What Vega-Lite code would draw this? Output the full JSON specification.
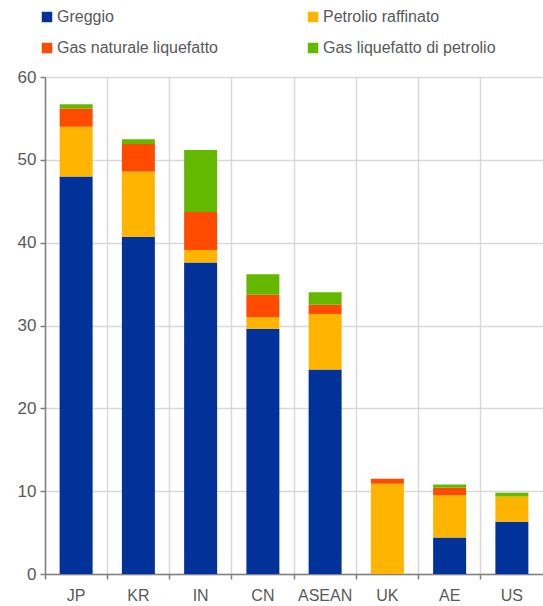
{
  "$schema": "https://vega.github.io/schema/vega-lite/v6.json",
  "width": 498,
  "height": 497,
  "autosize": {"type": "none"},
  "padding": {"left": 45, "top": 77, "right": 0, "bottom": 32},
  "background": "white",
  "config": {"view": {"stroke": null}, "font": "Liberation Sans"},
  "data": {"values": [
    {"c": "JP", "s": "Greggio", "o": 1, "v": 48.0},
    {"c": "JP", "s": "Petrolio raffinato", "o": 2, "v": 6.0},
    {"c": "JP", "s": "Gas naturale liquefatto", "o": 3, "v": 2.2},
    {"c": "JP", "s": "Gas liquefatto di petrolio", "o": 4, "v": 0.5},
    {"c": "KR", "s": "Greggio", "o": 1, "v": 40.7},
    {"c": "KR", "s": "Petrolio raffinato", "o": 2, "v": 7.9},
    {"c": "KR", "s": "Gas naturale liquefatto", "o": 3, "v": 3.3},
    {"c": "KR", "s": "Gas liquefatto di petrolio", "o": 4, "v": 0.6},
    {"c": "IN", "s": "Greggio", "o": 1, "v": 37.6},
    {"c": "IN", "s": "Petrolio raffinato", "o": 2, "v": 1.5},
    {"c": "IN", "s": "Gas naturale liquefatto", "o": 3, "v": 4.6},
    {"c": "IN", "s": "Gas liquefatto di petrolio", "o": 4, "v": 7.5},
    {"c": "CN", "s": "Greggio", "o": 1, "v": 29.6},
    {"c": "CN", "s": "Petrolio raffinato", "o": 2, "v": 1.4},
    {"c": "CN", "s": "Gas naturale liquefatto", "o": 3, "v": 2.7},
    {"c": "CN", "s": "Gas liquefatto di petrolio", "o": 4, "v": 2.5},
    {"c": "ASEAN", "s": "Greggio", "o": 1, "v": 24.7},
    {"c": "ASEAN", "s": "Petrolio raffinato", "o": 2, "v": 6.7},
    {"c": "ASEAN", "s": "Gas naturale liquefatto", "o": 3, "v": 1.1},
    {"c": "ASEAN", "s": "Gas liquefatto di petrolio", "o": 4, "v": 1.5},
    {"c": "UK", "s": "Greggio", "o": 1, "v": 0},
    {"c": "UK", "s": "Petrolio raffinato", "o": 2, "v": 10.9},
    {"c": "UK", "s": "Gas naturale liquefatto", "o": 3, "v": 0.6},
    {"c": "UK", "s": "Gas liquefatto di petrolio", "o": 4, "v": 0},
    {"c": "AE", "s": "Greggio", "o": 1, "v": 4.4},
    {"c": "AE", "s": "Petrolio raffinato", "o": 2, "v": 5.1},
    {"c": "AE", "s": "Gas naturale liquefatto", "o": 3, "v": 0.9},
    {"c": "AE", "s": "Gas liquefatto di petrolio", "o": 4, "v": 0.4},
    {"c": "US", "s": "Greggio", "o": 1, "v": 6.3},
    {"c": "US", "s": "Petrolio raffinato", "o": 2, "v": 3.05},
    {"c": "US", "s": "Gas naturale liquefatto", "o": 3, "v": 0},
    {"c": "US", "s": "Gas liquefatto di petrolio", "o": 4, "v": 0.45}
  ]},
  "mark": {"type": "bar", "width": {"band": 0.53}},
  "encoding": {
    "x": {
      "field": "c", "type": "nominal", "sort": null,
      "scale": {"paddingInner": 0, "paddingOuter": 0},
      "axis": {
        "title": null, "labelAngle": 0, "bandPosition": 0,
        "grid": true, "gridColor": "#d9d9d9", "gridWidth": 1.5,
        "domainColor": "#808080", "domainWidth": 1.5,
        "tickColor": "#808080", "tickSize": 5, "tickWidth": 1.5,
        "labelFontSize": 16, "labelColor": "#595959", "labelPadding": 8,
        "labelFont": "Liberation Sans"
      }
    },
    "y": {
      "field": "v", "type": "quantitative", "stack": "zero",
      "scale": {"domain": [0, 60], "nice": false},
      "axis": {
        "title": null, "values": [0, 10, 20, 30, 40, 50, 60],
        "grid": true, "gridColor": "#d9d9d9", "gridWidth": 1.5,
        "domainColor": "#808080", "domainWidth": 1.5,
        "tickColor": "#808080", "tickSize": 5, "tickWidth": 1.5,
        "labelFontSize": 17, "labelColor": "#595959", "labelPadding": 4,
        "labelFont": "Liberation Sans"
      }
    },
    "color": {
      "field": "s", "type": "nominal",
      "scale": {
        "domain": ["Greggio", "Gas naturale liquefatto", "Petrolio raffinato", "Gas liquefatto di petrolio"],
        "range": ["#003299", "#FF4B00", "#FFB400", "#65B800"]
      },
      "legend": {
        "title": null, "orient": "none", "legendX": -6, "legendY": -68,
        "columns": 2, "columnPadding": 87, "rowPadding": 15,
        "symbolType": "square", "symbolSize": 110, "symbolStrokeWidth": 0,
        "labelFontSize": 16, "labelColor": "#595959", "labelOffset": 2,
        "labelLimit": 400, "labelFont": "Liberation Sans"
      }
    },
    "order": {"field": "o", "type": "quantitative"}
  }
}
